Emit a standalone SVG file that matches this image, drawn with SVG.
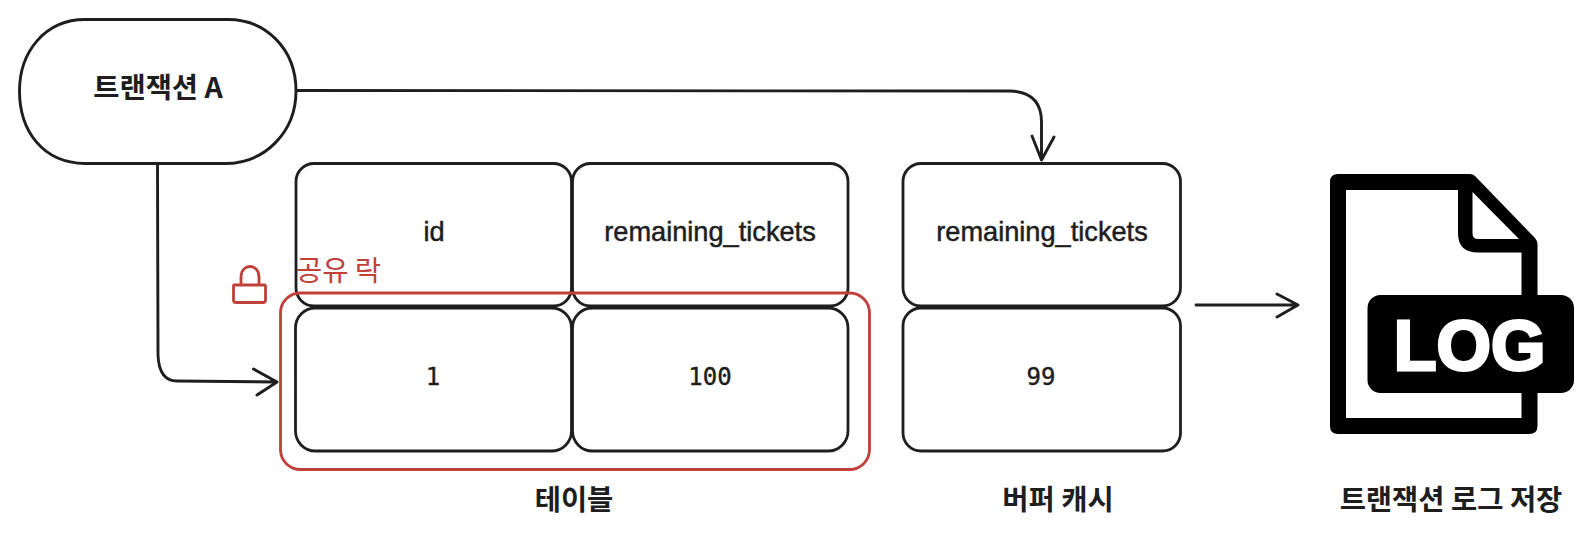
<svg xmlns="http://www.w3.org/2000/svg" width="1595" height="545" viewBox="0 0 1595 545">
<style>
.s{fill:none;stroke:#1e1e1e;stroke-width:2.9;stroke-linecap:round;stroke-linejoin:round}
.r{fill:none;stroke:#c0403a;stroke-width:2.8;stroke-linecap:round;stroke-linejoin:round}
.c{fill:#fff;stroke:#1e1e1e;stroke-width:2.8}
.k{font-family:"Noto Sans CJK KR","Liberation Sans",sans-serif;font-weight:700;font-size:28.500px;fill:#1e1e1e;text-anchor:middle}
.h{font-family:"Liberation Sans",Arial,sans-serif;font-size:27.200px;fill:#1e1e1e;stroke:#1e1e1e;stroke-width:.5;text-anchor:middle}
.m{font-family:"DejaVu Sans Mono",monospace;font-size:24px;fill:#1e1e1e;stroke:#1e1e1e;stroke-width:.4;text-anchor:middle}
</style>
<rect width="1595" height="545" fill="#fff"/>
<g id="transaction-a">
<path class="s" d="M85,19.500 H228 C265,19.500 296,48 296,91 C296,132 265,163.500 225,163.500 H85 C42,163 19.500,130 19.500,91 C19.500,52 45,19.500 85,19.500 Z"/>
<text class="k" x="158" y="98">트랜잭션 A</text>
</g>
<g id="table">
<g id="cell-id"><rect class="c" x="296" y="163.500" width="275.500" height="142.500" rx="18"/><text class="h" x="434" y="241">id</text></g>
<g id="cell-remaining"><rect class="c" x="572.500" y="163.500" width="275.500" height="142.500" rx="18"/><text class="h" x="710" y="241">remaining_tickets</text></g>
<g id="cell-1"><rect class="c" x="295.500" y="308" width="276" height="143" rx="20"/><text class="m" x="433" y="385">1</text></g>
<g id="cell-100"><rect class="c" x="572.500" y="308" width="275.500" height="143" rx="20"/><text class="m" x="710" y="385">100</text></g>
<text class="k" x="574" y="510">테이블</text>
</g>
<g id="buffer">
<g id="buffer-head"><rect class="c" x="903" y="163.500" width="277.500" height="142.500" rx="18"/><text class="h" x="1042" y="241">remaining_tickets</text></g>
<g id="buffer-value"><rect class="c" x="903" y="308" width="277.500" height="143" rx="18"/><text class="m" x="1041" y="385">99</text></g>
<text class="k" x="1058" y="510">버퍼 캐시</text>
</g>
<g id="shared-lock">
<rect class="r" x="280.500" y="293" width="589" height="176.500" rx="20"/>
<path class="r" d="M234,285 H264.500 Q265.500,285 265.500,287 V300 Q265.500,302.500 263,302.500 H236 Q233.500,302.500 233.500,300 V287 Q233.500,285 234,285 Z M241,284 V277 C241,263 259,263 259,277 V284"/>
<text x="296" y="281" font-family="'Noto Sans CJK KR',sans-serif" font-size="28.500" fill="#c0403a">공유 락</text>
</g>
<g id="log-file">
<path fill="#000" d="M1338,174 H1470 Q1473,174 1475,176 L1535,238 Q1537.500,241 1537.500,244 V426 Q1537.500,434 1529,434 H1338 Q1330,434 1330,426 V182 Q1330,174 1338,174 Z"/>
<path fill="#fff" d="M1346,190 H1458 V233 Q1458,252.500 1478,252.500 H1521.500 V418 H1346 Z"/>
<path fill="#fff" d="M1472.500,192 L1519,239 H1478 Q1472.500,239 1472.500,233 Z"/>
<rect x="1367.500" y="295" width="206.500" height="98" rx="13" fill="#000"/>
<text x="1469.500" y="369.500" font-family="'Liberation Sans',Arial,sans-serif" font-weight="700" font-size="70" fill="#fff" stroke="#fff" stroke-width="3" text-anchor="middle">LOG</text>
<text class="k" x="1451" y="510">트랜잭션 로그 저장</text>
</g>
<g id="connectors">
<path class="s" d="M297,90.500 L1010,91 Q1041.500,92 1041.500,122 V160 M1032,136 L1041.500,160 L1054,137"/>
<path class="s" d="M157.500,165 L158,355 Q159,381 177,381 L277,382 M253.500,369 L277,382 L257,395"/>
<path class="s" d="M1196,305 H1298 M1277,294 L1298,305 L1277,317"/>
</g>
</svg>
